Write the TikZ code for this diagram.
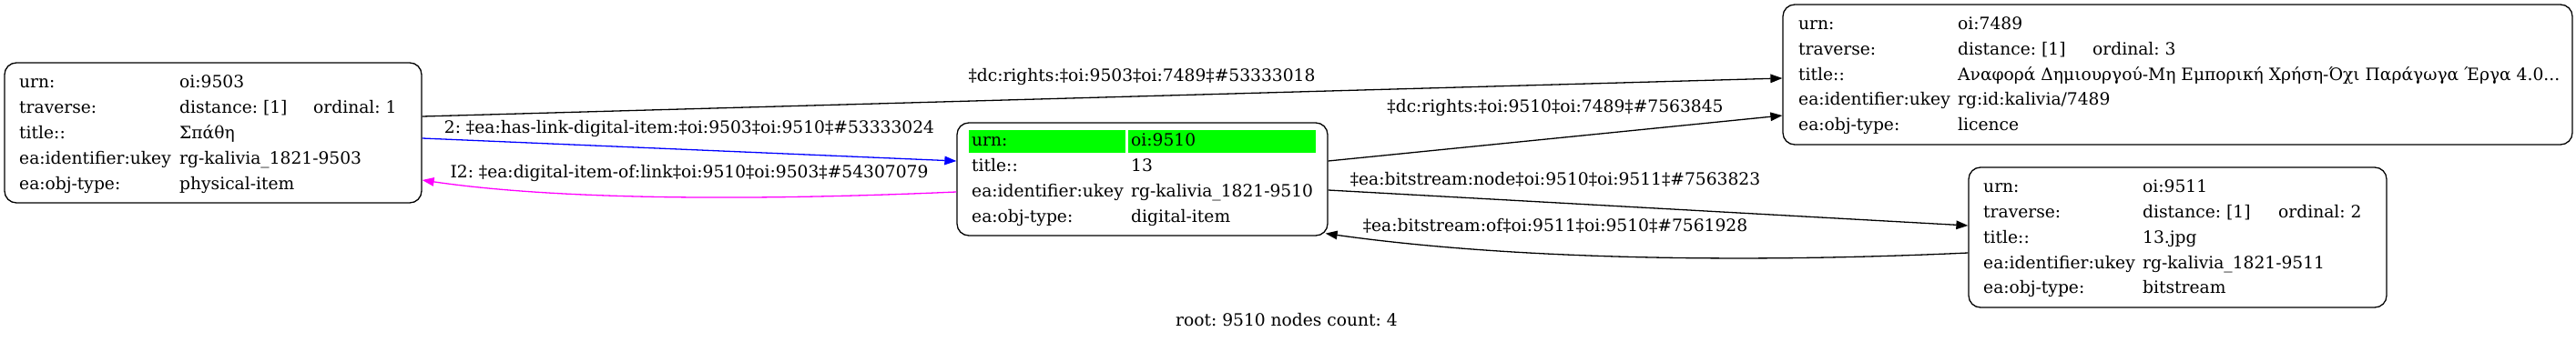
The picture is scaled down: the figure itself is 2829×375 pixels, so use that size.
\documentclass[tikz,border=0pt]{standalone}
\usepackage{fontspec}
\setmainfont{DejaVu Serif}
\usetikzlibrary{arrows.meta,calc}
\frenchspacing
\definecolor{gvgreen}{HTML}{00FF00}
\definecolor{gvblue}{HTML}{0000FF}
\definecolor{gvmagenta}{HTML}{FF00FF}
\newcommand\gvfs{\fontsize{18.67pt}{22pt}\selectfont}
\tikzset{
  recbox/.style={draw=black, line width=1.3pt, rounded corners=13pt, inner sep=0pt},
  cellfill/.style={fill=gvgreen, draw=none, inner sep=0pt, anchor=north west},
  txt/.style={anchor=base west, inner sep=0pt, font=\gvfs},
  elab/.style={anchor=base, inner sep=0pt, font=\gvfs},
  conn/.style={line width=1.3pt, -{Triangle[length=13pt,width=9.5pt]}},
}
\begin{document}
\begin{tikzpicture}[x=1pt,y=-1pt]
\useasboundingbox (0,0) rectangle (2829,375);
% ---- node 9503
\node[recbox, minimum width=458pt, minimum height=154pt] (n9503) at (234,146) {};
\node[txt] (a1) at (21,96) {urn:};
\node[txt] (a2) at (21,124) {traverse:};
\node[txt] (a3) at (21,152) {title::};
\node[txt] (a4) at (21,180) {ea:identifier:ukey};
\node[txt] (a5) at (21,208) {ea:obj-type:};
\node[txt] (b1) at (197,96) {oi:9503};
\node[txt] (b2) at (197,124) {distance: [1]};
\node[txt] (c2) at (344,124) {ordinal: 1};
\node[txt] (b3) at (197,152) {Σπάθη};
\node[txt] (b4) at (197,180) {rg-kalivia\_1821-9503};
\node[txt] (b5) at (197,208) {physical-item};
% ---- node 9510
\node[recbox, minimum width=407pt, minimum height=124pt] (n9510) at (1254.5,197) {};
\node[cellfill, minimum width=172pt, minimum height=25pt] (g1) at (1064,143) {};
\node[cellfill, minimum width=206pt, minimum height=25pt] (g2) at (1239,143) {};
\node[txt] (d1) at (1067,160) {urn:};
\node[txt] (d2) at (1067,188) {title::};
\node[txt] (d3) at (1067,216) {ea:identifier:ukey};
\node[txt] (d4) at (1067,244) {ea:obj-type:};
\node[txt] (e1) at (1242,160) {oi:9510};
\node[txt] (e2) at (1242,188) {13};
\node[txt] (e3) at (1242,216) {rg-kalivia\_1821-9510};
\node[txt] (e4) at (1242,244) {digital-item};
% ---- node 7489
\node[recbox, minimum width=867pt, minimum height=154pt] (n7489) at (2391.5,82) {};
\node[txt] (f1) at (1975,32) {urn:};
\node[txt] (f2) at (1975,60) {traverse:};
\node[txt] (f3) at (1975,88) {title::};
\node[txt] (f4) at (1975,115) {ea:identifier:ukey};
\node[txt] (f5) at (1975,143) {ea:obj-type:};
\node[txt] (h1) at (2150,32) {oi:7489};
\node[txt] (h2) at (2150,60) {distance: [1]};
\node[txt] (k2) at (2298,60) {ordinal: 3};
\node[txt] (h3) at (2150,88) {Αναφορά Δημιουργού-Μη Εμπορική Χρήση-Όχι Παράγωγα Έργα 4.0...};
\node[txt] (h4) at (2150,115) {rg:id:kalivia/7489};
\node[txt] (h5) at (2150,143) {licence};
% ---- node 9511
\node[recbox, minimum width=459pt, minimum height=154pt] (n9511) at (2391.5,261) {};
\node[txt] (m1) at (2178,211) {urn:};
\node[txt] (m2) at (2178,239) {traverse:};
\node[txt] (m3) at (2178,267) {title::};
\node[txt] (m4) at (2178,295) {ea:identifier:ukey};
\node[txt] (m5) at (2178,322) {ea:obj-type:};
\node[txt] (p1) at (2353,211) {oi:9511};
\node[txt] (p2) at (2353,239) {distance: [1]};
\node[txt] (q2) at (2502,239) {ordinal: 2};
\node[txt] (p3) at (2353,267) {13.jpg};
\node[txt] (p4) at (2353,295) {rg-kalivia\_1821-9511};
\node[txt] (p5) at (2353,322) {bitstream};
% ---- connectors
\draw[conn] ($(n9503.east)+(0,-18)$) -- ($(n7489.west)+(0,4)$);
\draw[conn, color=gvblue] ($(n9503.east)+(0,6)$) -- ($(n9510.west)+(0,-20)$);
\draw[conn, color=gvmagenta] ($(n9510.west)+(0,14)$) .. controls (800,222) and (600,218) .. ($(n9503.east)+(0,52)$);
\draw[conn] ($(n9510.east)+(0,-20)$) -- ($(n7489.west)+(0,45)$);
\draw[conn] ($(n9510.east)+(0,12)$) -- ($(n9511.west)+(0,-13)$);
\draw[conn] ($(n9511.west)+(0,17)$) .. controls (1900,290) and (1650,284) .. ($(n9510.south east)+(-3,-3)$);
% ---- connector labels
\node[elab] (l1) at (1254,89) {‡dc:rights:‡oi:9503‡oi:7489‡\#53333018};
\node[elab] (l2) at (757,146) {2: ‡ea:has-link-digital-item:‡oi:9503‡oi:9510‡\#53333024};
\node[elab] (l3) at (757,195) {I2: ‡ea:digital-item-of:link‡oi:9510‡oi:9503‡\#54307079};
\node[elab] (l4) at (1708,123) {‡dc:rights:‡oi:9510‡oi:7489‡\#7563845};
\node[elab] (l5) at (1708,203) {‡ea:bitstream:node‡oi:9510‡oi:9511‡\#7563823};
\node[elab] (l6) at (1708,254) {‡ea:bitstream:of‡oi:9511‡oi:9510‡\#7561928};
% ---- caption
\node[elab] (cap) at (1413,358) {root: 9510 nodes count: 4};
\end{tikzpicture}
\end{document}
